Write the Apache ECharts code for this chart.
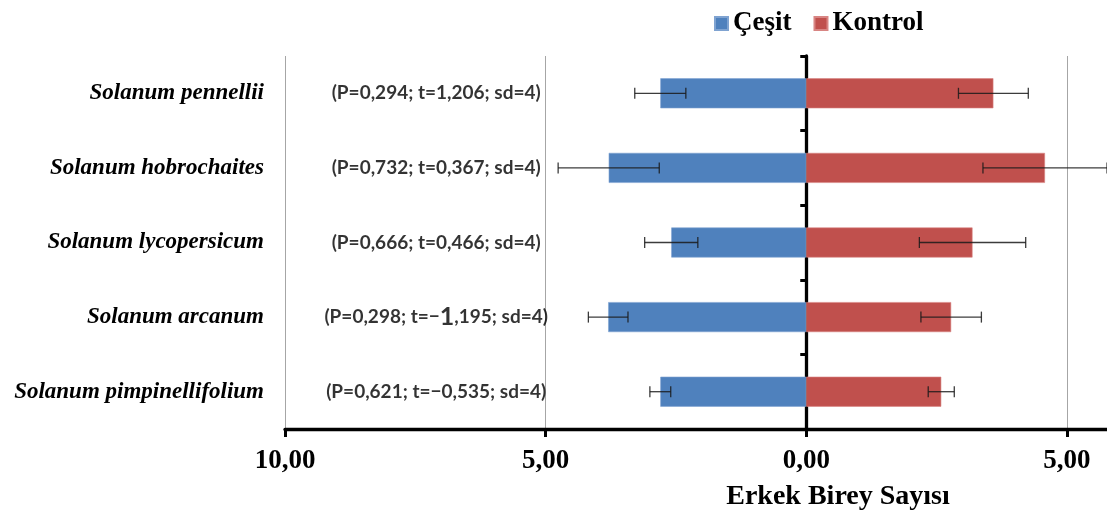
<!DOCTYPE html>
<html>
<head>
<meta charset="utf-8">
<script src="https://cdn.jsdelivr.net/npm/echarts@6/dist/echarts.min.js"></script>
<style>html,body{margin:0;padding:0;background:#fff;}#c{width:1107px;height:513px;}</style>
</head>
<body>
<div id="c"></div>
<script>
// ---- data (top to bottom) ----
const categories = ['Solanum pennellii', 'Solanum hobrochaites', 'Solanum lycopersicum', 'Solanum arcanum', 'Solanum pimpinellifolium'];
const cesitValues = [2.80, 3.79, 2.59, 3.80, 2.80];      // drawn to the left (negative)
const cesitErrors = [0.49, 0.97, 0.51, 0.38, 0.20];
const kontrolValues = [3.59, 4.58, 3.19, 2.78, 2.59];
const kontrolErrors = [0.67, 1.19, 1.02, 0.58, 0.25];
const annotations = [
  '(P=0,294; t=1,206; sd=4)',
  '(P=0,732; t=0,367; sd=4)',
  '(P=0,666; t=0,466; sd=4)',
  '(P=0,298; t=\u22121,195; sd=4)',
  '(P=0,621; t=\u22120,535; sd=4)'
];
const seriesNames = ['Çeşit', 'Kontrol'];
const axisTitle = 'Erkek Birey Sayısı';

const BLUE = '#4F81BD', RED = '#C0504D';
const SERIF = '"Liberation Serif", "Times New Roman", serif';
const ANNOT_X = -7.1;

function errItem(vals, errs, sign) {
  return vals.map((v, i) => [sign * v, i, errs[i]]);
}
function renderErr(params, api) {
  const v = api.value(0), cat = api.value(1), e = api.value(2);
  const p1 = api.coord([v - e, cat]);
  const p2 = api.coord([v + e, cat]);
  const cap = 5.5;
  const style = { stroke: '#1a1a1a', lineWidth: 1.3, opacity: 0.85 };
  return {
    type: 'group',
    children: [
      { type: 'line', shape: { x1: p1[0], y1: p1[1], x2: p2[0], y2: p2[1] }, style },
      { type: 'line', shape: { x1: p1[0], y1: p1[1] - cap, x2: p1[0], y2: p1[1] + cap }, style },
      { type: 'line', shape: { x1: p2[0], y1: p2[1] - cap, x2: p2[0], y2: p2[1] + cap }, style }
    ]
  };
}

const chart = echarts.init(document.getElementById('c'), null, { renderer: 'canvas' });
chart.setOption({
  animation: false,
  backgroundColor: '#fff',
  legend: {
    data: seriesNames,
    left: 709, top: 5,
    icon: 'rect', itemWidth: 13, itemHeight: 13, itemGap: 22,
    textStyle: { fontFamily: SERIF, fontWeight: 'bold', fontSize: 27, color: '#000' }
  },
  grid: { left: 285, right: -12, top: 56, bottom: 84, containLabel: false, outerBoundsMode: 'none' },
  xAxis: {
    type: 'value', min: -10, max: 6, interval: 5,
    name: axisTitle, nameLocation: 'middle', nameGap: 54,
    nameTextStyle: { fontFamily: SERIF, fontWeight: 'bold', fontSize: 28, color: '#000', padding: [0, 0, 0, 272] },
    axisLine: { show: true, onZero: false, lineStyle: { color: '#000', width: 3.3 } },
    axisTick: { show: true, length: 8, lineStyle: { color: '#000', width: 3 } },
    axisLabel: {
      showMaxLabel: false, margin: 19,
      fontFamily: SERIF, fontWeight: 'bold', fontSize: 27, color: '#000',
      formatter: v => Math.abs(v).toFixed(2).replace('.', ',')
    },
    splitLine: { show: true, lineStyle: { color: '#a6a6a6', width: 1 } }
  },
  yAxis: [
    {
      type: 'category', data: categories, inverse: true, position: 'left',
      axisLine: { show: false, onZero: false },
      axisTick: { show: false },
      axisLabel: { margin: 21, fontFamily: SERIF, fontWeight: 'bold', fontStyle: 'italic', fontSize: 23, color: '#000' },
      splitLine: { show: false }
    },
    {
      type: 'category', data: categories, inverse: true, position: 'left',
      axisLine: { show: true, onZero: true, lineStyle: { color: '#000', width: 3.3 } },
      axisTick: { show: true, inside: false, length: 6, lineStyle: { color: '#000', width: 3 } },
      axisLabel: { show: false },
      splitLine: { show: false }
    }
  ],
  series: [
    {
      name: seriesNames[0], type: 'bar', stack: 'total', barWidth: 30,
      itemStyle: { color: BLUE, borderColor: '#7fa3d1', borderWidth: 0.6 },
      data: cesitValues.map(v => -v), z: 2
    },
    {
      name: seriesNames[1], type: 'bar', stack: 'total', barWidth: 30,
      itemStyle: { color: RED, borderColor: '#d88583', borderWidth: 0.6 },
      data: kontrolValues, z: 2
    },
    { type: 'custom', renderItem: renderErr, data: errItem(cesitValues, cesitErrors, -1), z: 5, silent: true },
    { type: 'custom', renderItem: renderErr, data: errItem(kontrolValues, kontrolErrors, 1), z: 5, silent: true },
    {
      type: 'scatter', symbolSize: 0, silent: true, z: 6,
      data: annotations.map((t, i) => [ANNOT_X, i]),
      label: {
        show: true, position: 'inside',
        fontFamily: 'Lato, "Open Sans", sans-serif', fontWeight: 'bold', fontSize: 19, color: '#000',
        formatter: p => annotations[p.dataIndex].replace('\u22121,', '\u2212{big|1},'),
        rich: { big: { fontFamily: 'Lato, "Open Sans", sans-serif', fontWeight: 'bold', fontSize: 25, color: '#000' } }
      }
    }
  ]
});
</script>
</body>
</html>
